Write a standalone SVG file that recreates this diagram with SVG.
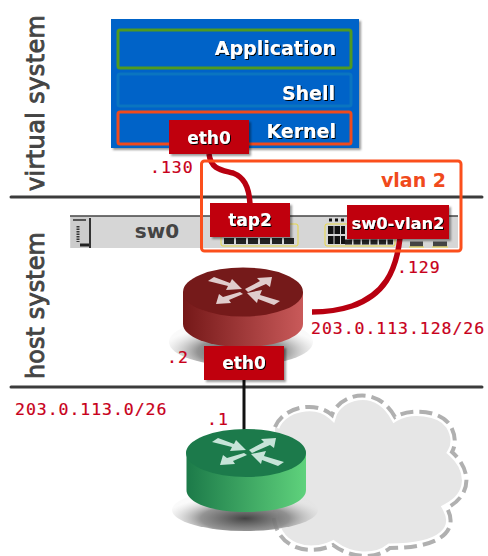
<svg xmlns="http://www.w3.org/2000/svg" width="488" height="556" viewBox="0 0 488 556">
<style>
.lab{font-family:"DejaVu Sans",sans-serif;font-weight:bold;fill:#fff}
.ip{font-family:"DejaVu Sans Mono",monospace;font-size:16.5px;letter-spacing:.95px;fill:#c8001a;stroke:#c8001a;stroke-width:.2}
.side{font-family:"DejaVu Sans",sans-serif;font-size:24px;fill:#444;stroke:#444;stroke-width:.9}
.red{fill:#c00010;filter:url(#s)}
.sep{stroke:#3c3c3c;stroke-width:3;stroke-linecap:round}
.wire{fill:none;stroke:#b80010;stroke-width:5.5}
.outline{fill:none}
</style>
<defs>
<filter id="s" x="-10%" y="-10%" width="125%" height="130%"><feDropShadow dx="2" dy="2" stdDeviation="1" flood-color="#000" flood-opacity=".4"/></filter>
<filter id="t" x="-10%" y="-20%" width="125%" height="150%"><feDropShadow dx="1" dy="1" stdDeviation=".3" flood-color="#000" flood-opacity="1"/></filter>
<linearGradient id="rr"><stop offset="0" stop-color="#751818"/><stop offset="1" stop-color="#c95a5a"/></linearGradient>
<linearGradient id="gg"><stop offset="0" stop-color="#1c7a49"/><stop offset="1" stop-color="#5fd27c"/></linearGradient>
<radialGradient id="sh" cx=".5" cy=".7" r=".55"><stop offset="0" stop-color="#444"/><stop offset=".55" stop-color="#888" stop-opacity=".9"/><stop offset="1" stop-color="#ddd" stop-opacity=".15"/></radialGradient>
<path id="cloudshape" d="M275 427C283 407 315 400 332 415C338 396 375 382 395 417C410 408 440 410 450 425C456 435 456 445 452 452C472 470 472 495 447 508C458 528 445 548 390 548C375 560 350 558 333 545C310 556 275 550 273 512"/>
<g id="arrows"><path d="M-35-11-29-15-13-9-11-13-1-3-17-2-15-6ZM29-15 27-5 23-8 5 0 2-3 17-11 14-14ZM-27 12-24 2-20 5-3 0 0 2-14 8-12 11ZM4 1 19-2 17 3 37 9 31 13 15 7 14 11Z"/></g>
</defs>

<g id="separators">
<line class="sep" x1="11" y1="197" x2="482" y2="197"/>
<line class="sep" x1="11" y1="387" x2="482" y2="387"/>
</g>
<text class="side" transform="translate(44,191) rotate(-90)" textLength="176">virtual system</text>
<text class="side" transform="translate(44,379) rotate(-90)" textLength="147">host system</text>

<g id="vm">
<rect x="111" y="19" width="248" height="129" fill="#0563c8" filter="url(#s)"/>
<rect x="118" y="30" width="233" height="38" rx="2" fill="none" stroke="#4f9a20" stroke-width="3"/>
<rect x="118" y="74" width="233" height="32" rx="2" fill="none" stroke="#0a75c0" stroke-width="3"/>
<rect x="118" y="112" width="233" height="32" rx="2" fill="none" stroke="#f04a1c" stroke-width="3"/>
<text class="lab" x="336" y="55" text-anchor="end" font-size="19" filter="url(#t)">Application</text>
<text class="lab" x="335" y="100" text-anchor="end" font-size="19" filter="url(#t)">Shell</text>
<text class="lab" x="336" y="138" text-anchor="end" font-size="19" filter="url(#t)">Kernel</text>
</g>

<g id="sw0">
<rect x="70" y="216" width="388" height="32" fill="#d6d6d6"/>
<path d="M70 216H458" fill="none" stroke="#444" stroke-width="1.5"/>
<path d="M90 248V218" fill="none" stroke="#333" stroke-width="2"/>
<rect x="71" y="217" width="18" height="31" fill="#ccc"/>
<path d="M73 220h13" stroke="#555" stroke-width="2"/>
<path d="M78 226v16" stroke="#333" stroke-width="3" stroke-dasharray="1.5 1"/>
<path d="M80 245h9" stroke="#222" stroke-width="3"/>
<text x="157" y="238" text-anchor="middle" font-family="DejaVu Sans,sans-serif" font-weight="bold" font-size="20" fill="#444">sw0</text>
<rect x="221" y="224" width="77" height="22" rx="2" fill="#d6d6d6" stroke="#e8d848"/>
<path d="M224 241h72" stroke="#222" stroke-width="6" stroke-dasharray="10 2"/>
<rect x="325" y="224" width="70" height="22" rx="2" fill="#d6d6d6" stroke="#e8d848"/>
<path d="M328 230h17M328 240h17" stroke="#111" stroke-width="8" stroke-dasharray="5.5 1"/>
<path d="M345 242h48" stroke="#222" stroke-width="5" stroke-dasharray="7 1.500"/>
<path d="M329 220h20" stroke="#111" stroke-width="3" stroke-dasharray="3 3"/>
<path d="M410 244h13M433 244h14" stroke="#444" stroke-width="5"/>
<path d="M409 247h15M432 247h16" stroke="#e8d848" stroke-width="1"/>
</g>

<g id="connectors">
<path class="wire" d="M209 154C211 170 222 170 233 173C243 177 249 185 250 204"/>
<path class="wire" d="M400 238C396 272 384 295 352 306C340 310 326 312 312 312"/>
<line x1="244" y1="378" x2="244" y2="432" stroke="#111" stroke-width="3"/>
</g>

<g id="vlan">
<rect x="201.500" y="161" width="259.500" height="90" rx="3" fill="none" stroke="#fb4f1c" stroke-width="3"/>
<text x="446" y="187" text-anchor="end" font-family="DejaVu Sans,sans-serif" font-weight="bold" font-size="19" fill="#f04a1c">vlan 2</text>
</g>

<g id="cloud">
<use href="#cloudshape" fill="#e6e6e6" stroke="#fff" stroke-width="9"/>
<use href="#cloudshape" fill="none" stroke="#b0b0b0" stroke-width="4" stroke-dasharray="13 6"/>
</g>

<g id="router-red">
<ellipse cx="241" cy="342" rx="72" ry="24" fill="url(#sh)"/>
<path d="M183 292V324C183 337 210 347 243 347S303 337 303 324V292Z" fill="url(#rr)"/>
<ellipse cx="243" cy="292" rx="60" ry="24.500" fill="#751a1a"/>
<use href="#arrows" x="243" y="292" fill="#e0cccc"/>
</g>

<g id="router-green">
<ellipse cx="245" cy="510" rx="73" ry="21" fill="url(#sh)"/>
<path d="M186.500 453V490C186.500 503 212 512 246 512S306 503 306 490V453Z" fill="url(#gg)"/>
<ellipse cx="246" cy="453" rx="60" ry="24" fill="#1c7a4b"/>
<use href="#arrows" x="247" y="453" fill="#c6e4d8"/>
</g>

<g id="eth0-vm"><rect class="red" x="169" y="120" width="80" height="34"/><text class="lab" x="209" y="144" text-anchor="middle" font-size="17" filter="url(#t)">eth0</text></g>
<g id="tap2"><rect class="red" x="210" y="203" width="80" height="34"/><text class="lab" x="250" y="226" text-anchor="middle" font-size="17" filter="url(#t)">tap2</text></g>
<g id="sw0-vlan2"><rect class="red" x="347" y="205" width="102" height="34"/><text class="lab" x="398" y="229" text-anchor="middle" font-size="16.300" filter="url(#t)">sw0-vlan2</text></g>
<g id="eth0-host"><rect class="red" x="204" y="346" width="80" height="34"/><text class="lab" x="244" y="369" text-anchor="middle" font-size="17" filter="url(#t)">eth0</text></g>

<g id="labels">
<text class="ip" x="150" y="173">.130</text>
<text class="ip" x="397" y="273">.129</text>
<text class="ip" x="311" y="334">203.0.113.128/26</text>
<text class="ip" x="167" y="363">.2</text>
<text class="ip" x="15" y="415">203.0.113.0/26</text>
<text class="ip" x="207" y="425">.1</text>
</g>
</svg>
